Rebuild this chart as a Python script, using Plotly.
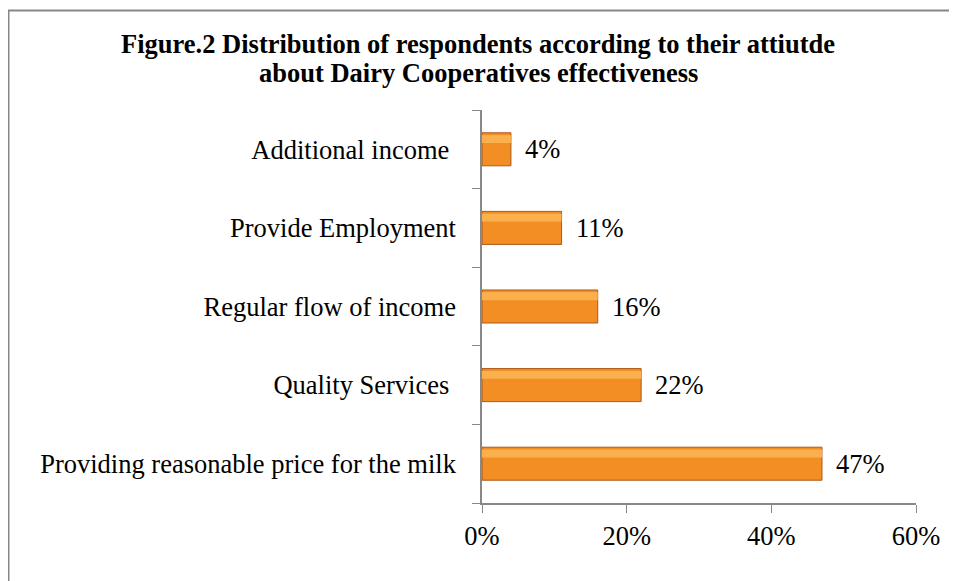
import plotly.graph_objects as go

categories = ["Providing reasonable price for the milk", "Quality Services\u00a0",
              "Regular flow of income", "Provide Employment", "Additional income\u00a0"]
values = [47, 22, 16, 11, 4]
labels = ["47%", "22%", "16%", "11%", "4%"]
x_ticks = [0, 20, 40, 60]
x_tick_text = ["0%", "20%", "40%", "60%"]
title_line1 = "Figure.2 Distribution of respondents according to their attiutde"
title_line2 = "about Dairy Cooperatives effectiveness"

FONT = "Liberation Serif, Times New Roman, serif"
FS = 26.5

# figure coordinates (page body adds an 8px offset)
L, R, T, B = 474, 49, 102, 86
PW = 957 - L - R
PH = 581 - T - B

fig = go.Figure()
fig.add_trace(go.Bar(
    y=categories, x=values, orientation="h", width=0.42,
    marker=dict(color="#F28E24", line=dict(color="#A9591B", width=1)),
    hoverinfo="skip", showlegend=False,
))
# highlight band near the top of each bar (same data)
fig.add_trace(go.Bar(
    y=categories, x=values, orientation="h", width=0.1, offset=0.08,
    marker=dict(color="#FBB04E", line=dict(width=0)),
    hoverinfo="skip", showlegend=False,
))

for c, v, t in zip(categories, values, labels):
    fig.add_annotation(x=v, y=c, text=t, showarrow=False, xanchor="left",
                       xshift=12, font=dict(family=FONT, size=FS, color="black"))

# title (two lines placed separately to match line spacing)
fig.add_annotation(xref="paper", yref="paper", x=(470 - L) / PW, y=1 + (102 - 36) / PH,
                   text="<b>" + title_line1 + "</b>", showarrow=False,
                   xanchor="center", yanchor="middle",
                   font=dict(family=FONT, size=FS, color="black"))
fig.add_annotation(xref="paper", yref="paper", x=(470 - L) / PW, y=1 + (102 - 65) / PH,
                   text="<b>" + title_line2 + "</b>", showarrow=False,
                   xanchor="center", yanchor="middle",
                   font=dict(family=FONT, size=FS, color="black"))

fig.update_layout(
    width=957, height=581, autosize=False,
    barmode="overlay",
    paper_bgcolor="white", plot_bgcolor="white",
    margin=dict(l=L, r=R, t=T, b=B),
    font=dict(family=FONT, size=FS, color="black"),
    xaxis=dict(range=[0, 60], tickvals=x_ticks, ticktext=x_tick_text,
               showgrid=False, zeroline=False, showline=True, linecolor="#888888",
               linewidth=1.5, ticks="outside", ticklen=8, tickcolor="#888888",
               automargin=False,
               tickfont=dict(family=FONT, size=FS, color="black")),
    yaxis=dict(categoryorder="array", categoryarray=categories,
               showgrid=False, zeroline=False, showline=True, linecolor="#888888",
               linewidth=1.5, ticks="outside", ticklen=8, tickcolor="#888888",
               tickson="boundaries", ticklabelstandoff=19, automargin=False,
               tickfont=dict(family=FONT, size=FS, color="black")),
    shapes=[dict(type="rect", xref="paper", yref="paper",
                 x0=(0.5 - L) / PW, x1=(1000 - L) / PW,
                 y0=-0.5, y1=(581 - 2.5 - B) / PH,
                 line=dict(color="#878787", width=2), fillcolor="rgba(0,0,0,0)",
                 layer="below")],
)

fig.write_html("out.html")
